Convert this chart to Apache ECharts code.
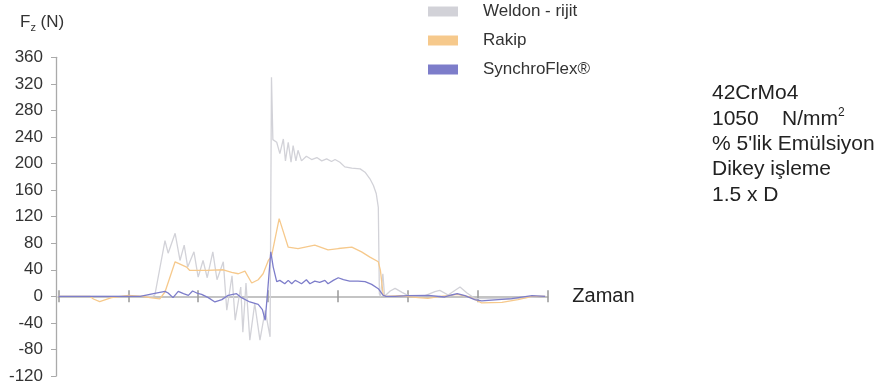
<!DOCTYPE html>
<html>
<head>
<meta charset="utf-8">
<script src="https://cdn.jsdelivr.net/npm/echarts@6/dist/echarts.min.js"></script>
<style>
  html, body { margin: 0; padding: 0; background: #fff; }
  #chart { width: 878px; height: 390px; }
</style>
</head>
<body>
<div id="chart"></div>
<script>
// Axial cutting force F_z (N) over time for three tool holders
const seriesNames = ['Weldon - rijit', 'Rakip', 'SynchroFlex®'];

// [time, force] pairs; time runs 0..700 (one x-axis tick every 100)
const weldon = [
  [0,0],[135,0],[138,2],[152.5,84],[157,65],[167,95],[174,54],[180,77],[185,44],[194,67],
  [200,29],[207,54],[213,28],[221,67],[227,25],[236,52],[241,-21],[248.5,31],[253,-36],[261,14],
  [264,-54],[268.5,20],[274,-66],[281,-11],[288.5,-66],[296,-21],[303,-61],[305,330],[307,236],
  [312.5,232],[317,215],[322,237],[325,204],[329,232],[333,202],[336,227],[340,204],[343,220],
  [348,204],[355,211],[362.5,206],[370,209],[377,204],[384,207],[391,203],[396,206],[403,202],
  [410,195],[420,193],[432,192],[439,187],[446,177],[451,167],[455,155],[458,134],[459.5,4],
  [461,0],[464.5,34],[467,0],[475,8],[482,12],[492,6],[503,0],[525,1],[539,7],[546,9],[558,2],
  [575,14],[585,5],[596,-3],[646,-4],[689,0],[697,0]
];
const rakip = [
  [0,0],[45,0],[50,-4],[59,-8],[76,-2],[100,1.5],[121,0],[131,-2],[145,-4],[152.5,6.5],
  [167,52],[183.5,44],[188,39],[212,39],[236,40],[248,36],[257.5,34],[267,38],[276.7,20],
  [286,25],[293,34],[300.5,54],[305,60],[316,117],[329,74],[343,72],[367,77],[386,70],[401,72],
  [420,74],[434,67],[446,59],[458,52],[461,39],[465,2],[469,0],[489,1],[515,-2],[529,-3],
  [546,0],[558,1],[571,3],[589,-1],[599,-6],[606,-10],[635,-9],[658,-5],[678,0],[697,0]
];
const synchroflex = [
  [0,0],[117,0],[136,4],[152.5,7.5],[157,5],[164,-2],[171.5,7.5],[179,4],[186,1.5],[192,8],
  [198,5],[205,3],[214.5,-2],[224,-8.5],[234,-5],[243,1.5],[255,4],[262,-2],[274,-8.5],[286,-12],
  [292,-20],[296,-36],[300,14],[304,67],[307.5,44],[312.5,22],[317,24],[324,19],[329,24],[334,19],
  [339,24],[343,22],[348,19],[355,25],[360,19],[367,23],[374,21],[381.5,24],[386,19],[393.5,24],
  [400.7,28],[408,25],[417,23],[429,23],[439,22],[448.5,18],[458,11.5],[465,1.5],[469,0],[482,0],
  [500,1],[529.5,1.5],[553,-1],[563,2],[571,4],[582,1],[596,-5],[606,-7],[649,-3.5],[678,1],[697,0]
];

// Test conditions listed beside the plot
const conditionLines = ['42CrMo4', '1050    N/mm{sup|2}', "% 5'lik Emülsiyon", 'Dikey işleme', '1.5 x D'];

const yMin = -120, yMax = 360, yStep = 40;
const xMin = 0, xMax = 700, xStep = 100;

const colors = ['#d2d2d8', '#f6c98c', '#7d7dca'];
const font = 'Liberation Sans';

const chart = echarts.init(document.getElementById('chart'), null, { renderer: 'canvas' });

// Two identical grids: the second one only carries upward ticks so the
// time ticks cross the zero line
const gridBox = { left: 58.5, right: 330.7, top: 57.3, bottom: 14 };

const xAxisBase = {
  type: 'value', min: xMin, max: xMax, interval: xStep, position: 'bottom',
  axisLine: { onZero: true, lineStyle: { color: '#c4c4c4', width: 2 } },
  axisLabel: { show: false }, splitLine: { show: false }
};

chart.setOption({
  animation: false,
  textStyle: { fontFamily: font },
  grid: [Object.assign({}, gridBox), Object.assign({}, gridBox)],
  legend: {
    orient: 'vertical', left: 423, top: -2, itemWidth: 30, itemHeight: 10, itemGap: 12,
    icon: 'rect', selectedMode: false,
    textStyle: { fontSize: 17, color: '#333', fontFamily: font, padding: [0, 0, 0, 20] },
    data: seriesNames
  },
  xAxis: [
    Object.assign({}, xAxisBase, {
      gridIndex: 0,
      name: 'Zaman', nameLocation: 'end', nameGap: 25,
      nameTextStyle: { fontSize: 20, color: '#222', fontFamily: font },
      axisTick: { show: true, length: 6, lineStyle: { color: '#999', width: 1.5 } }
    }),
    Object.assign({}, xAxisBase, {
      gridIndex: 1,
      axisTick: { show: true, inside: true, length: 6, lineStyle: { color: '#999', width: 1.5 } }
    })
  ],
  yAxis: [
    {
      gridIndex: 0,
      type: 'value', min: yMin, max: yMax, interval: yStep, offset: 2.5,
      axisLine: { show: true, onZero: false, lineStyle: { color: '#aaa', width: 1.3 } },
      axisTick: { show: true, length: 5, lineStyle: { color: '#aaa' } },
      axisLabel: { fontSize: 17, color: '#333', margin: 13, fontFamily: font },
      splitLine: { show: false }
    },
    {
      gridIndex: 1,
      type: 'value', min: yMin, max: yMax, interval: yStep,
      axisLine: { show: false, onZero: false }, axisTick: { show: false },
      axisLabel: { show: false }, splitLine: { show: false }
    }
  ],
  graphic: [
    {
      type: 'text', left: 20, top: 14,
      style: {
        text: '{a|F}{b|z}{a| (N)}', fill: '#333',
        rich: {
          a: { fontSize: 17, fontFamily: font, fill: '#333' },
          b: { fontSize: 11, fontFamily: font, fill: '#333', padding: [10, 0, 0, 0] }
        }
      }
    },
    {
      type: 'text', left: 712, top: 81,
      style: {
        text: conditionLines.join('\n'), fontSize: 21, fontFamily: font, fill: '#222', lineHeight: 25.3,
        rich: { sup: { fontSize: 12, fontFamily: font, fill: '#222', verticalAlign: 'top', lineHeight: 25.3, padding: [0, 0, 6, 0] } }
      }
    }
  ],
  series: [
    { name: seriesNames[0], type: 'line', data: weldon, xAxisIndex: 0, yAxisIndex: 0, symbol: 'none', color: colors[0], lineStyle: { width: 1.3 } },
    { name: seriesNames[1], type: 'line', data: rakip, xAxisIndex: 0, yAxisIndex: 0, symbol: 'none', color: colors[1], lineStyle: { width: 1.3 } },
    { name: seriesNames[2], type: 'line', data: synchroflex, xAxisIndex: 0, yAxisIndex: 0, symbol: 'none', color: colors[2], lineStyle: { width: 1.3 } }
  ]
});
</script>
</body>
</html>
